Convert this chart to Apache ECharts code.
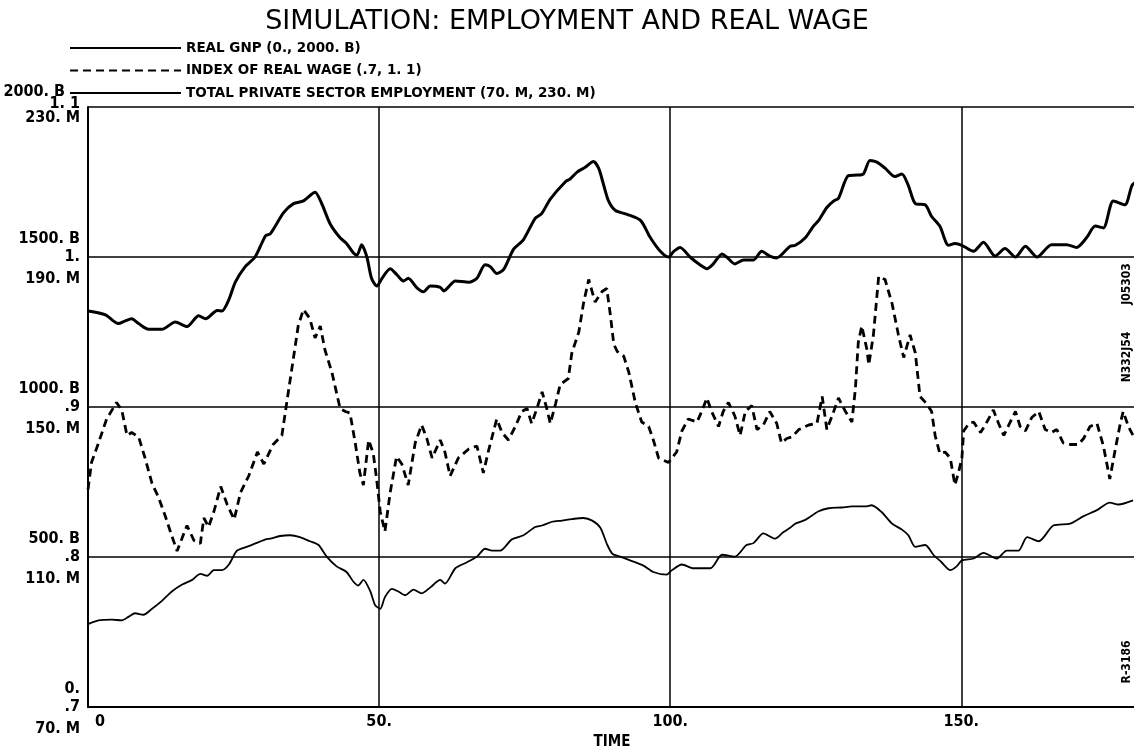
<!DOCTYPE html>
<html>
<head>
<meta charset="utf-8">
<script src="https://cdn.jsdelivr.net/npm/echarts@6/dist/echarts.min.js"></script>
<style>
  html, body { margin: 0; padding: 0; background: #fff; }
  #main { width: 1134px; height: 753px; }
</style>
</head>
<body>
<div id="main"></div>
<script>
// time (years) / value pairs
var gnp = [[0,1320],[3,1307],[5.2,1278],[6.4,1287],[7.5,1294],[8.7,1278],[10.4,1259],[12.7,1259],[15,1283],[17,1268],[19,1304],[20.2,1294],[22.2,1322],[23,1320],[24.2,1358],[25.3,1416],[27,1468],[28.7,1500],[30.5,1571],[31.3,1577],[33.6,1648],[35.3,1678],[37,1687],[39,1716],[40.1,1680],[41.6,1610],[43.3,1564],[44.4,1545],[45.6,1513],[46.2,1506],[47,1541],[47.9,1500],[48.7,1429],[49.6,1403],[50.5,1429],[51.9,1461],[53,1442],[54.2,1420],[55,1429],[56.5,1397],[57.6,1384],[58.8,1403],[60.5,1399],[61.1,1387],[63.1,1420],[65.4,1416],[66.8,1429],[68.2,1474],[69.1,1468],[70.2,1445],[71.4,1459],[73.1,1526],[74.8,1558],[76.8,1629],[77.9,1644],[79.4,1693],[82,1751],[82.8,1760],[84,1783],[85.4,1799],[86.8,1818],[87.7,1796],[88.5,1745],[89.4,1687],[90.6,1655],[92.6,1642],[94.9,1622],[96.6,1564],[98.3,1519],[99.7,1500],[100.6,1519],[101.7,1532],[103.4,1500],[105.1,1474],[106.3,1461],[107.4,1477],[108.9,1510],[109.7,1500],[111.1,1477],[112.6,1490],[114.3,1490],[115.7,1519],[117.1,1503],[118.3,1497],[119.4,1513],[120.6,1536],[121.5,1539],[123.2,1564],[124.6,1603],[125.5,1622],[126.9,1665],[128.1,1687],[128.9,1696],[130.6,1771],[132.1,1773],[133.2,1777],[134.3,1822],[135.5,1816],[136.9,1796],[138.6,1768],[139.8,1777],[140.9,1738],[142.1,1678],[143.8,1674],[144.9,1635],[146.3,1603],[147.8,1539],[148.9,1545],[150.1,1539],[152.1,1519],[153.8,1549],[155.8,1503],[157.5,1528],[159.3,1500],[161,1536],[163,1500],[165.5,1541],[168.1,1541],[169.8,1532],[171.5,1564],[173,1603],[174.4,1597],[176.1,1687],[178.1,1674],[179.3,1738],[180,1750]];

var wage = [[0,0.845],[0.6,0.863],[1.8,0.876],[3.2,0.892],[4.9,0.903],[5.8,0.898],[6.7,0.881],[7.5,0.883],[8.7,0.880],[9.8,0.866],[11,0.849],[12.1,0.840],[13.3,0.827],[14.4,0.814],[15.3,0.804],[16.1,0.812],[17,0.821],[18.2,0.811],[19.3,0.809],[19.9,0.826],[20.7,0.820],[21.6,0.830],[22.8,0.847],[23.9,0.835],[25.1,0.825],[26.2,0.843],[27.6,0.854],[29.1,0.870],[30.2,0.862],[31.8,0.875],[33.3,0.881],[34.1,0.902],[35.3,0.933],[36.1,0.954],[37,0.965],[38.1,0.959],[39,0.946],[39.9,0.954],[40.7,0.938],[41.9,0.923],[43.3,0.899],[44.2,0.897],[45,0.896],[45.9,0.876],[46.7,0.856],[47.3,0.848],[48.2,0.878],[49,0.869],[49.6,0.851],[50.2,0.830],[51,0.817],[51.9,0.843],[53,0.867],[53.9,0.862],[55,0.848],[56.2,0.876],[57.3,0.888],[58.2,0.879],[59.1,0.866],[60.5,0.878],[61.3,0.870],[62.2,0.854],[63.6,0.866],[65.4,0.872],[66.8,0.874],[67.9,0.856],[68.8,0.871],[69.6,0.883],[70.2,0.892],[71.1,0.883],[72.2,0.878],[73.4,0.887],[74.5,0.897],[75.4,0.899],[76.2,0.889],[77.1,0.899],[78,0.910],[78.8,0.899],[79.4,0.889],[80.3,0.902],[81.1,0.915],[82.5,0.919],[83.1,0.936],[84.3,0.950],[85.1,0.969],[86,0.985],[87.1,0.970],[88.3,0.977],[89.1,0.979],[89.7,0.962],[90.3,0.942],[90.9,0.937],[92,0.934],[92.9,0.923],[94,0.903],[95.1,0.890],[96.3,0.887],[97.1,0.878],[98,0.866],[99.7,0.863],[101.1,0.870],[102,0.884],[103.1,0.892],[104.6,0.890],[105.4,0.897],[106.3,0.906],[107.1,0.897],[108.3,0.887],[109.1,0.897],[110,0.903],[111.1,0.894],[112,0.881],[112.9,0.897],[114,0.901],[114.9,0.885],[116,0.888],[117.1,0.897],[118.3,0.889],[119.1,0.876],[120,0.879],[120.9,0.880],[122.1,0.885],[123.8,0.888],[125.2,0.889],[126.1,0.907],[126.9,0.885],[127.8,0.894],[128.9,0.906],[130.1,0.897],[131.2,0.890],[131.8,0.912],[132.3,0.943],[132.9,0.954],[133.8,0.938],[134.1,0.928],[134.9,0.948],[135.8,0.987],[136.9,0.985],[138.1,0.969],[139.2,0.948],[140.1,0.933],[141.2,0.948],[142.1,0.936],[142.9,0.907],[144.1,0.902],[144.9,0.897],[145.5,0.881],[146.3,0.869],[147.2,0.870],[148.1,0.866],[148.9,0.848],[149.5,0.856],[150.1,0.866],[150.4,0.884],[151.3,0.889],[152.1,0.890],[153.3,0.883],[154.1,0.888],[155.5,0.898],[156.4,0.889],[157.3,0.881],[158.4,0.890],[159.3,0.897],[160.1,0.887],[161,0.884],[162.1,0.893],[163.3,0.897],[164.4,0.885],[165.5,0.883],[166.4,0.885],[167.5,0.876],[168.7,0.875],[170.1,0.875],[171,0.879],[172.1,0.887],[173.3,0.889],[174.4,0.874],[175.5,0.852],[176.4,0.871],[177.3,0.889],[177.8,0.897],[178.7,0.887],[179.5,0.881]];

var emp = [[0,92.1],[1.8,93.1],[4.1,93.3],[5.8,93.1],[7,94.1],[8.1,95.0],[9.5,94.6],[11,96.2],[12.7,98.3],[14.4,100.8],[16.1,102.6],[17.9,103.9],[19.3,105.5],[20.5,105.0],[21.6,106.5],[23,106.5],[24.2,108.0],[25.6,111.7],[27.6,112.9],[30.5,114.7],[31.3,114.9],[33,115.6],[34.7,115.8],[36.4,115.3],[38.1,114.2],[39.6,113.2],[41,110.1],[42.7,107.5],[44.4,106.0],[45.6,103.4],[46.4,102.4],[47.3,103.9],[48.5,100.8],[49.3,97.2],[50.2,96.2],[51,99.3],[52.2,101.5],[53.3,100.8],[54.5,99.8],[55.9,101.3],[57.3,100.3],[58.8,101.9],[60.5,103.9],[61.3,102.9],[63.1,107.0],[65.1,108.6],[66.8,110.1],[68.2,112.2],[69.4,111.7],[70.8,111.7],[72.8,114.7],[74.8,115.8],[76.8,118.0],[78,118.4],[79.7,119.4],[81.4,119.7],[83.1,120.1],[85.1,120.4],[86.6,119.7],[88,117.8],[89.2,113.2],[90.1,110.8],[91.4,110.1],[93.1,109.1],[95.4,107.7],[97.1,106.0],[99.4,105.3],[100.3,106.5],[102,108.0],[104,107.0],[106.9,107.0],[108.9,110.6],[111.1,110.1],[113.1,113.2],[114.3,113.7],[116,116.3],[118,114.9],[119.4,116.6],[120.6,117.8],[121.5,118.9],[123.2,119.9],[125.5,122.2],[127.2,123.0],[129.5,123.2],[131.2,123.5],[133.5,123.5],[134.6,123.8],[136.3,122.0],[138.1,118.9],[139.8,117.3],[140.9,115.8],[142.1,112.7],[143.8,113.2],[145.2,110.6],[146.6,108.6],[148.1,106.5],[149.2,107.5],[150.1,109.1],[152.1,109.6],[153.8,111.1],[156.1,109.6],[157.8,111.7],[159.8,111.7],[161.3,115.3],[163.3,114.2],[165.8,118.4],[168.7,118.9],[171,120.9],[173.3,122.5],[175.5,124.5],[177,124.0],[179.5,125.1]];

var timeTicks = [0, 50, 100, 150];
var gnpTicks = [0, 500, 1000, 1500, 2000];
var gnpLabels = ['0.', '500. B', '1000. B', '1500. B', '2000. B'];
var wageTicks = [0.7, 0.8, 0.9, 1.0, 1.1];
var wageLabels = ['.7', '.8', '.9', '1.', '1. 1'];
var empTicks = [70, 110, 150, 190, 230];
var empLabels = ['70. M', '110. M', '150. M', '190. M', '230. M'];

var nameGnp = 'REAL GNP (0., 2000. B)';
var nameWage = 'INDEX OF REAL WAGE (.7, 1. 1)';
var nameEmp = 'TOTAL PRIVATE SECTOR EMPLOYMENT (70. M, 230. M)';

var FONT = '"DejaVu Sans Condensed", "DejaVu Sans", sans-serif';

function pick(ticks, v) {
    for (var i = 0; i < ticks.length; i++) {
        if (Math.abs(ticks[i] - v) < 1e-6) return i;
    }
    return -1;
}

// label formatter: last tick gets its own rich style (top row is squeezed)
function tickLabel(ticks, labels) {
    return function (v) {
        var i = pick(ticks, v);
        if (i < 0) return '';
        return (i === ticks.length - 1 ? '{t|' : '{n|') + labels[i] + '}';
    };
}

var myChart = echarts.init(document.getElementById('main'));

var labelFont = { color: '#000', fontFamily: FONT, fontWeight: 'bold', fontSize: 16 };

var option = {
    backgroundColor: '#fff',
    animation: false,
    title: {
        text: 'SIMULATION: EMPLOYMENT AND REAL WAGE',
        left: 'center',
        top: 3,
        textStyle: { fontFamily: '"DejaVu Sans", sans-serif', fontWeight: 'normal', fontSize: 27, color: '#000' }
    },
    legend: {
        orient: 'vertical',
        left: 64,
        top: 36,
        itemWidth: 111,
        itemHeight: 14,
        itemGap: 8.5,
        itemStyle: { opacity: 0 },
        data: [nameGnp, nameWage, nameEmp],
        textStyle: { fontFamily: '"DejaVu Sans", sans-serif', fontWeight: 'bold', fontSize: 13.5, color: '#000', lineHeight: 14 }
    },
    grid: {
        left: 88,
        right: -2,
        top: 107,
        bottom: 46,
        outerBoundsMode: 'none'
    },
    xAxis: {
        type: 'value',
        min: 0,
        max: 180,
        interval: 50,
        axisLine: { lineStyle: { color: '#000', width: 2 } },
        axisTick: { show: false },
        splitLine: { show: true, lineStyle: { color: '#000', width: 1.5 } },
        axisLabel: Object.assign({
            margin: 7,
            showMaxLabel: false,
            formatter: function (v) {
                if (timeTicks.indexOf(v) < 0) return '';
                return v === 0 ? '{z|0}' : v + '.';
            },
            rich: { z: { padding: [0, 0, 0, 24] } }
        }, labelFont),
        name: 'TIME',
        nameLocation: 'middle',
        nameGap: 28,
        nameTextStyle: { fontFamily: FONT, fontWeight: 'bold', fontSize: 15, color: '#000' }
    },
    yAxis: [
        {
            type: 'value',
            position: 'left',
            min: 0,
            max: 2000,
            interval: 500,
            axisLine: { show: true, lineStyle: { color: '#000', width: 2 } },
            axisTick: { show: false },
            splitLine: { show: true, lineStyle: { color: '#000', width: 1.5 } },
            axisLabel: Object.assign({
                customValues: gnpTicks,
                margin: 8,
                verticalAlign: 'bottom',
                formatter: tickLabel(gnpTicks, gnpLabels),
                rich: {
                    n: { padding: [0, 0, 10, 0] },
                    t: { padding: [0, 15, 7, 0] }
                }
            }, labelFont)
        },
        {
            type: 'value',
            position: 'left',
            offset: 0,
            min: 0.7,
            max: 1.1,
            axisLine: { show: false },
            axisTick: { show: false },
            splitLine: { show: false },
            axisLabel: Object.assign({
                customValues: wageTicks,
                margin: 8,
                formatter: tickLabel(wageTicks, wageLabels),
                rich: {
                    n: { padding: [0, 0, 0, 0] },
                    t: { padding: [0, 0, 6, 0] }
                }
            }, labelFont)
        },
        {
            type: 'value',
            position: 'left',
            offset: 0,
            min: 70,
            max: 230,
            axisLine: { show: false },
            axisTick: { show: false },
            splitLine: { show: false },
            axisLabel: Object.assign({
                customValues: empTicks,
                margin: 8,
                verticalAlign: 'top',
                formatter: tickLabel(empTicks, empLabels),
                rich: {
                    n: { padding: [14, 0, 0, 0] },
                    t: { padding: [3, 0, 0, 0] }
                }
            }, labelFont)
        }
    ],
    series: [
        {
            name: nameGnp,
            type: 'line',
            yAxisIndex: 0,
            data: gnp,
            symbol: 'none',
            smooth: 0.25,
            lineStyle: { color: '#000', width: 3 },
            itemStyle: { color: '#000' }
        },
        {
            name: nameWage,
            type: 'line',
            yAxisIndex: 1,
            data: wage,
            symbol: 'none',
            lineStyle: { color: '#000', width: 2.8, type: [8, 5] },
            itemStyle: { color: '#000' }
        },
        {
            name: nameEmp,
            type: 'line',
            yAxisIndex: 2,
            data: emp,
            symbol: 'none',
            smooth: 0.25,
            lineStyle: { color: '#000', width: 1.8 },
            itemStyle: { color: '#000' }
        }
    ],
    graphic: [
        {
            type: 'text', x: 1127, y: 284, rotation: Math.PI / 2,
            style: { text: 'J05303', fill: '#000', font: 'bold 12px ' + FONT, textAlign: 'center', textVerticalAlign: 'middle' }
        },
        {
            type: 'text', x: 1127, y: 357, rotation: Math.PI / 2,
            style: { text: 'N332J54', fill: '#000', font: 'bold 12px ' + FONT, textAlign: 'center', textVerticalAlign: 'middle' }
        },
        {
            type: 'text', x: 1127, y: 662, rotation: Math.PI / 2,
            style: { text: 'R-3186', fill: '#000', font: 'bold 12px ' + FONT, textAlign: 'center', textVerticalAlign: 'middle' }
        }
    ]
};

myChart.setOption(option);
</script>
</body>
</html>
